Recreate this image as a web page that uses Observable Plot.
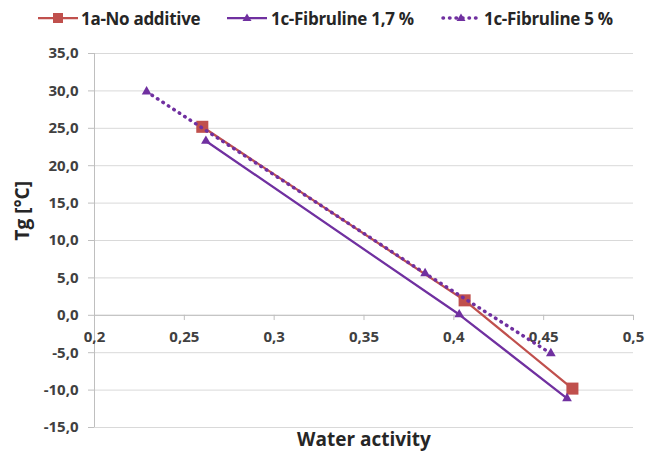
<!DOCTYPE html>
<html><head><meta charset="utf-8">
<script src="https://cdn.jsdelivr.net/npm/d3@7"></script>
<script src="https://cdn.jsdelivr.net/npm/@observablehq/plot@0.6"></script>
<style>
body{margin:0;width:651px;height:459px;background:#fff;font-family:"Open Sans",Lato,sans-serif;position:relative;overflow:hidden}
#legend{position:absolute;top:0;left:0;width:651px;height:36px}
.item{position:absolute;top:7px;display:flex;align-items:center;font-weight:bold;font-size:17px;color:#262626;height:22px;white-space:nowrap;letter-spacing:-0.3px}
#chart{position:absolute;top:36px;left:0}
</style></head><body>
<div id="legend"></div><div id="chart"></div>
<script>
const seriesNames = ["1a-No additive", "1c-Fibruline 1,7 %", "1c-Fibruline 5 %"];
const seriesColors = ["#C0504D", "#7030A0", "#7030A0"];
const waterActivity1a = [0.260, 0.406, 0.466];
const tg1a = [25.2, 2.0, -9.8];
const waterActivity17 = [0.262, 0.403, 0.463];
const tg17 = [23.3, 0.1, -11.1];
const waterActivity5 = [0.229, 0.384, 0.454];
const tg5 = [29.9, 5.6, -5.1];
const xTicks = [0.2, 0.25, 0.3, 0.35, 0.4, 0.45, 0.5];
const xTickLabels = ["0,2", "0,25", "0,3", "0,35", "0,4", "0,45", "0,5"];
const yTicks = [-15, -10, -5, 0, 5, 10, 15, 20, 25, 30, 35];
const yTickLabels = ["-15,0", "-10,0", "-5,0", "0,0", "5,0", "10,0", "15,0", "20,0", "25,0", "30,0", "35,0"];
const xTitle = "Water activity";
const yTitle = "Tg [°C]";

const rows = (xs, ys) => xs.map((x, i) => ({x, y: ys[i]}));
const s1 = rows(waterActivity1a, tg1a);
const s2 = rows(waterActivity17, tg17);
const s3 = rows(waterActivity5, tg5);
const font = "'Open Sans', Lato, sans-serif";

// legend
const legendPos = [[38, 81], [227, 271], [441, 484]];
const legend = document.getElementById("legend");
seriesNames.forEach((name, i) => {
  const c = seriesColors[i];
  const line = i === 2
    ? `<line x1="2" y1="10" x2="38" y2="10" stroke="${c}" stroke-width="3.5" stroke-dasharray="0.5 6" stroke-linecap="round"/>`
    : `<line x1="0" y1="10" x2="40" y2="10" stroke="${c}" stroke-width="2.25"/>`;
  const marker = i === 0
    ? `<rect x="15" y="5" width="10" height="10" fill="${c}"/>`
    : `<path d="M20,5.5 L24.5,13 L15.5,13 Z" fill="${c}"/>`;
  const div = document.createElement("div");
  div.className = "item";
  div.style.left = legendPos[i][0] + "px";
  div.innerHTML = `<svg width="40" height="20">${line}${marker}</svg>`;
  const span = document.createElement("span");
  span.textContent = name;
  span.style.position = "absolute";
  span.style.left = (legendPos[i][1] - legendPos[i][0]) + "px";
  div.appendChild(span);
  legend.appendChild(div);
});

const plot = Plot.plot({
  width: 651, height: 423,
  marginTop: 17, marginBottom: 32, marginLeft: 94, marginRight: 18,
  x: {domain: [0.2, 0.5], axis: null},
  y: {domain: [-15, 35], axis: null},
  style: {fontFamily: font, background: "white", overflow: "visible"},
  marks: [
    Plot.ruleY(yTicks, {y: d => d, stroke: "#d9d9d9", strokeWidth: 1}),
    Plot.ruleX([0.2], {x: d => d, stroke: "#bfbfbf", strokeWidth: 1}),
    Plot.ruleY([0], {y: d => d, stroke: "#bfbfbf", strokeWidth: 1}),
    Plot.axisY({ticks: yTicks, tickFormat: d => yTickLabels[yTicks.indexOf(d)], tickSize: 6, tickPadding: 10,
      label: null, stroke: "#bfbfbf", fill: "#404040", fontSize: 15, fontWeight: "bold", anchor: "left"}),
    Plot.ruleX(xTicks, {x: d => d, y1: 0, y2: -0.7, stroke: "#bfbfbf"}),
    Plot.text(xTicks, {x: d => d, y: 0, dy: 22, text: (d, i) => xTickLabels[i], fill: "#404040", fontSize: 15, fontWeight: "bold"}),
    Plot.text([yTitle], {frameAnchor: "left", dx: -72, rotate: -90, text: d => d, fontSize: 19, fontWeight: "bold", fill: "#262626"}),
    Plot.text([xTitle], {frameAnchor: "bottom", dy: 18, text: d => d, fontSize: 19, fontWeight: "bold", fill: "#262626"}),
    Plot.line(s1, {x: "x", y: "y", stroke: seriesColors[0], strokeWidth: 2.25}),
    Plot.dot(s1, {x: "x", y: "y", symbol: "square", r: 6.8, fill: seriesColors[0]}),
    Plot.line(s2, {x: "x", y: "y", stroke: seriesColors[1], strokeWidth: 2.25}),
    Plot.dot(s2, {x: "x", y: "y", symbol: "triangle", r: 3.6, fill: seriesColors[1]}),
    Plot.line(s3, {x: "x", y: "y", stroke: seriesColors[2], strokeWidth: 3.5, strokeDasharray: "0.5 6", strokeLinecap: "round"}),
    Plot.dot(s3, {x: "x", y: "y", symbol: "triangle", r: 3.6, fill: seriesColors[2]})
  ]
});
document.getElementById("chart").appendChild(plot);
</script>
</body></html>
